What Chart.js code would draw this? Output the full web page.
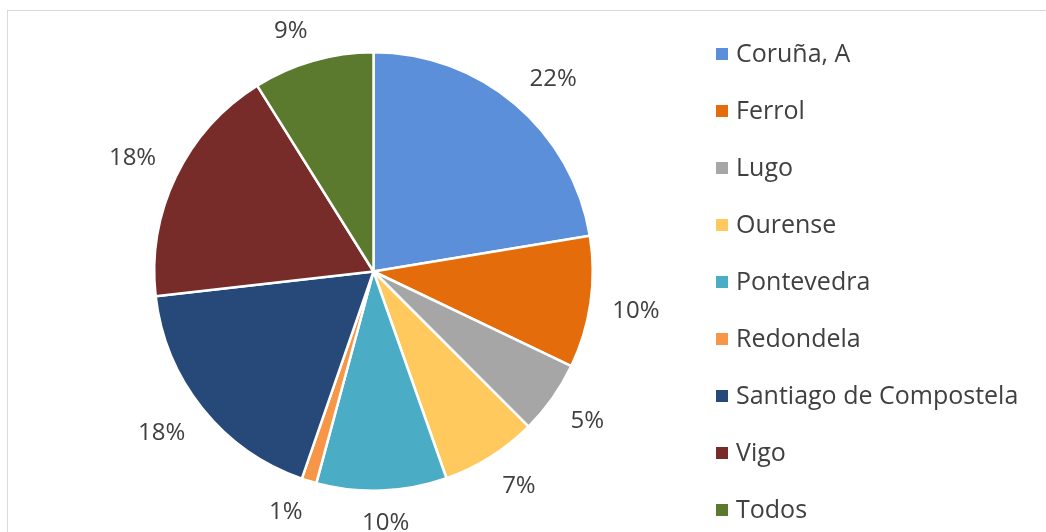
<!DOCTYPE html>
<html>
<head>
<meta charset="utf-8">
<script src="https://cdn.jsdelivr.net/npm/chart.js@4/dist/chart.umd.min.js"></script>
<style>
  html, body { margin: 0; padding: 0; background: #fff; }
  #wrap { position: relative; width: 1046px; height: 532px; overflow: hidden; }
  #frame { position: absolute; left: 7px; top: 10px; width: 1100px; height: 600px; border: 1px solid #d9d9d9; }
  canvas { position: absolute; left: 0; top: 0; }
</style>
</head>
<body>
<div id="wrap">
  <div id="frame"></div>
  <canvas id="chart-pie" width="1046" height="532"></canvas>
</div>
<script>
// datos del grafico (porcentaje por ciudad)
var ciudades = ["Coruña, A", "Ferrol", "Lugo", "Ourense", "Pontevedra", "Redondela", "Santiago de Compostela", "Vigo", "Todos"];
var valores = [22.4, 9.7, 5.4, 7.1, 9.6, 1.1, 17.9, 17.9, 8.9];
var colores = ["#5B8FD9", "#E46C0A", "#A6A6A6", "#FFC95E", "#4BACC6", "#F79646", "#26497A", "#772C2A", "#5B7A2E"];

var fuente = "'Open Sans', sans-serif";

// etiquetas de porcentaje fuera de cada porcion
var etiquetasPlugin = {
  id: 'etiquetas',
  afterDatasetsDraw: function (chart) {
    var ctx = chart.ctx;
    var meta = chart.getDatasetMeta(0);
    var total = valores.reduce(function (a, b) { return a + b; }, 0);
    ctx.save();
    ctx.font = "24px " + fuente;
    ctx.fillStyle = "#404040";
    ctx.textAlign = "center";
    ctx.textBaseline = "middle";
    meta.data.forEach(function (arc, i) {
      var p = arc.getProps(['x', 'y', 'startAngle', 'endAngle', 'outerRadius'], true);
      var ang = (p.startAngle + p.endAngle) / 2;
      var dx = Math.cos(ang), dy = Math.sin(ang);
      var txt = Math.round(valores[i] / total * 100) + "%";
      var hw = ctx.measureText(txt).width / 2;
      var hh = 9.5;
      var r = p.outerRadius + 22;
      var sx = Math.max(-1, Math.min(1, dx * 3.5));
      var sy = Math.max(-1, Math.min(1, dy * 3.5));
      ctx.fillText(txt, p.x + dx * r + sx * hw, p.y + dy * r + sy * hh + 1);
    });
    ctx.restore();
  }
};

// leyenda a la derecha
var leyendaPlugin = {
  id: 'leyenda',
  afterDraw: function (chart) {
    var ctx = chart.ctx;
    ctx.save();
    ctx.font = "25px " + fuente;
    ctx.textBaseline = "middle";
    ctx.textAlign = "left";
    ciudades.forEach(function (c, i) {
      var y = 54 + i * 57;
      ctx.fillStyle = colores[i];
      ctx.fillRect(716, y - 6, 12, 12);
      ctx.fillStyle = "#404040";
      ctx.fillText(c, 736, y + 1);
    });
    ctx.restore();
  }
};

var ctx1 = document.getElementById("chart-pie").getContext("2d");
var grafico = new Chart(ctx1, {
  type: "pie",
  data: {
    labels: ciudades,
    datasets: [{
      data: valores,
      backgroundColor: colores,
      borderColor: "#ffffff",
      borderWidth: 2.5
    }]
  },
  options: {
    responsive: false,
    animation: false,
    layout: {
      padding: { left: 152, right: 451, top: 51, bottom: 40 }
    },
    plugins: {
      legend: { display: false },
      tooltip: { enabled: false }
    }
  },
  plugins: [etiquetasPlugin, leyendaPlugin]
});
</script>
</body>
</html>
